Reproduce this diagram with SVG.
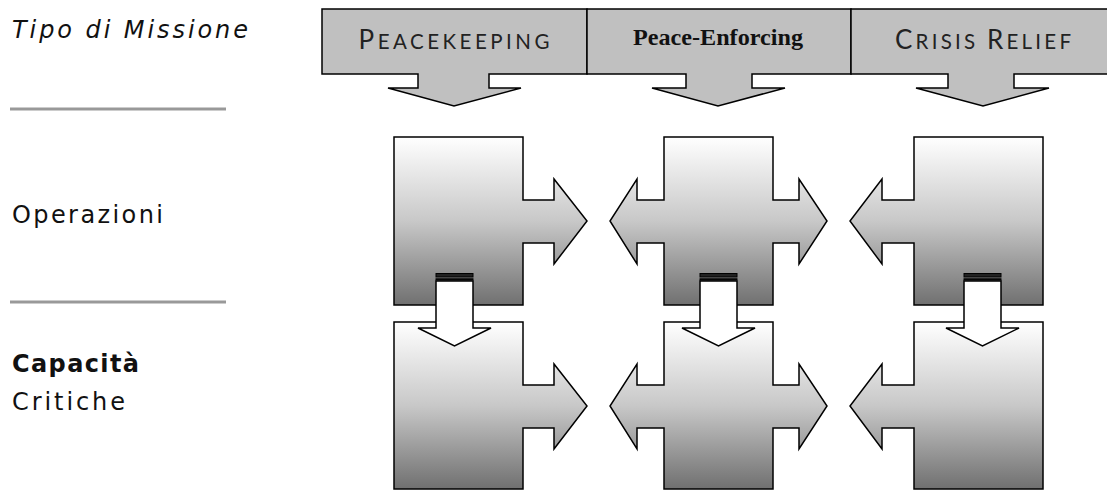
<svg xmlns="http://www.w3.org/2000/svg" width="1107" height="490" viewBox="0 0 1107 490">
<style>
.bar{fill:#c0c0c0;stroke:#000;stroke-width:1.5;stroke-linejoin:miter}
.pz{fill:url(#g);stroke:#000;stroke-width:1.5}
.dn{fill:#fff;stroke:#000;stroke-width:1.5}
.tail{fill:#222;stroke:#000;stroke-width:1}
.lbl{font-family:"DejaVu Sans",Verdana,sans-serif;font-size:24px;fill:#111}
.sc{font-family:"Lato","DejaVu Sans",sans-serif;fill:#222}
.sep{stroke:#999;stroke-width:3}
</style>
<defs>
<linearGradient id="g" x1="0" y1="0" x2="0" y2="1">
<stop offset="0" stop-color="#ffffff"/>
<stop offset="0.5" stop-color="#c8c8c8"/>
<stop offset="1" stop-color="#707070"/>
</linearGradient>
</defs>
<g id="labels">
<text class="lbl" x="12" y="38" font-style="italic" textLength="236" lengthAdjust="spacing">Tipo di Missione</text>
<line class="sep" x1="10" y1="109" x2="226" y2="109"/>
<text class="lbl" x="12" y="223" textLength="151" lengthAdjust="spacing">Operazioni</text>
<line class="sep" x1="10" y1="302" x2="226" y2="302"/>
<text class="lbl" x="12" y="372" font-weight="bold" textLength="127" lengthAdjust="spacing">Capacità</text>
<text class="lbl" x="12" y="410" textLength="113" lengthAdjust="spacing">Critiche</text>
</g>
<g id="mission-peacekeeping">
<path class="bar" d="M322,9 H587 V74 H489 V88 H521 L454,106 L388,88 H418 V74 H322 Z"/>
<text class="sc" x="454" y="49" text-anchor="middle" textLength="191" lengthAdjust="spacing"><tspan font-size="26">P</tspan><tspan font-size="20.5">EACEKEEPING</tspan></text>
</g>
<g id="mission-peace-enforcing">
<path class="bar" d="M587,9 H851 V74 H752 V88 H785 L718,106 L652,88 H686 V74 H587 Z"/>
<text x="718" y="45" text-anchor="middle" font-family="'Liberation Serif','Times New Roman',serif" font-weight="bold" font-size="23" fill="#111" textLength="170" lengthAdjust="spacingAndGlyphs">Peace-Enforcing</text>
</g>
<g id="mission-crisis-relief">
<path class="bar" d="M851,9 H1110 V74 H1014 V88 H1049 L983,106 L916,88 H948 V74 H851 Z"/>
<text class="sc" x="983" y="49" text-anchor="middle" textLength="176" lengthAdjust="spacing"><tspan font-size="26">C</tspan><tspan font-size="20.5">RISIS </tspan><tspan font-size="26">R</tspan><tspan font-size="20.5">ELIEF</tspan></text>
</g>
<g id="op-1"><path class="pz" d="M394,137 H523 V200 H554 V179 L587,221 L554,264 V243 H523 V305 H394 Z"/></g>
<g id="op-2"><path class="pz" d="M664,137 H773 V200 H799 V179 L827,221 L799,264 V243 H773 V305 H664 V243 H637 V264 L610,221 L637,179 V200 H664 Z"/></g>
<g id="op-3"><path class="pz" d="M914,137 H1043 V305 H914 V243 H882 V264 L850,221 L882,179 V200 H914 Z"/></g>
<g id="cap-1"><path class="pz" d="M394,322 H523 V385 H554 V364 L587,406 L554,449 V428 H523 V489 H394 Z"/></g>
<g id="cap-2"><path class="pz" d="M664,322 H773 V385 H799 V364 L827,406 L799,449 V428 H773 V489 H664 V428 H637 V449 L610,406 L637,364 V385 H664 Z"/></g>
<g id="cap-3"><path class="pz" d="M914,322 H1043 V489 H914 V428 H882 V449 L850,406 L882,364 V385 H914 Z"/></g>
<g id="connectors">
<rect class="tail" x="436" y="273.5" width="37" height="3.5"/>
<rect class="tail" x="436" y="278.8" width="37" height="1.2"/>
<path class="dn" d="M436,281 H473 V328 H491 L454.5,346 L418,328 H436 Z"/>
<rect class="tail" x="700" y="273.5" width="37" height="3.5"/>
<rect class="tail" x="700" y="278.8" width="37" height="1.2"/>
<path class="dn" d="M700,281 H737 V328 H755 L718.5,346 L682,328 H700 Z"/>
<rect class="tail" x="964" y="273.5" width="37" height="3.5"/>
<rect class="tail" x="964" y="278.8" width="37" height="1.2"/>
<path class="dn" d="M964,281 H1001 V328 H1019 L982.5,346 L946,328 H964 Z"/>
</g>
</svg>
